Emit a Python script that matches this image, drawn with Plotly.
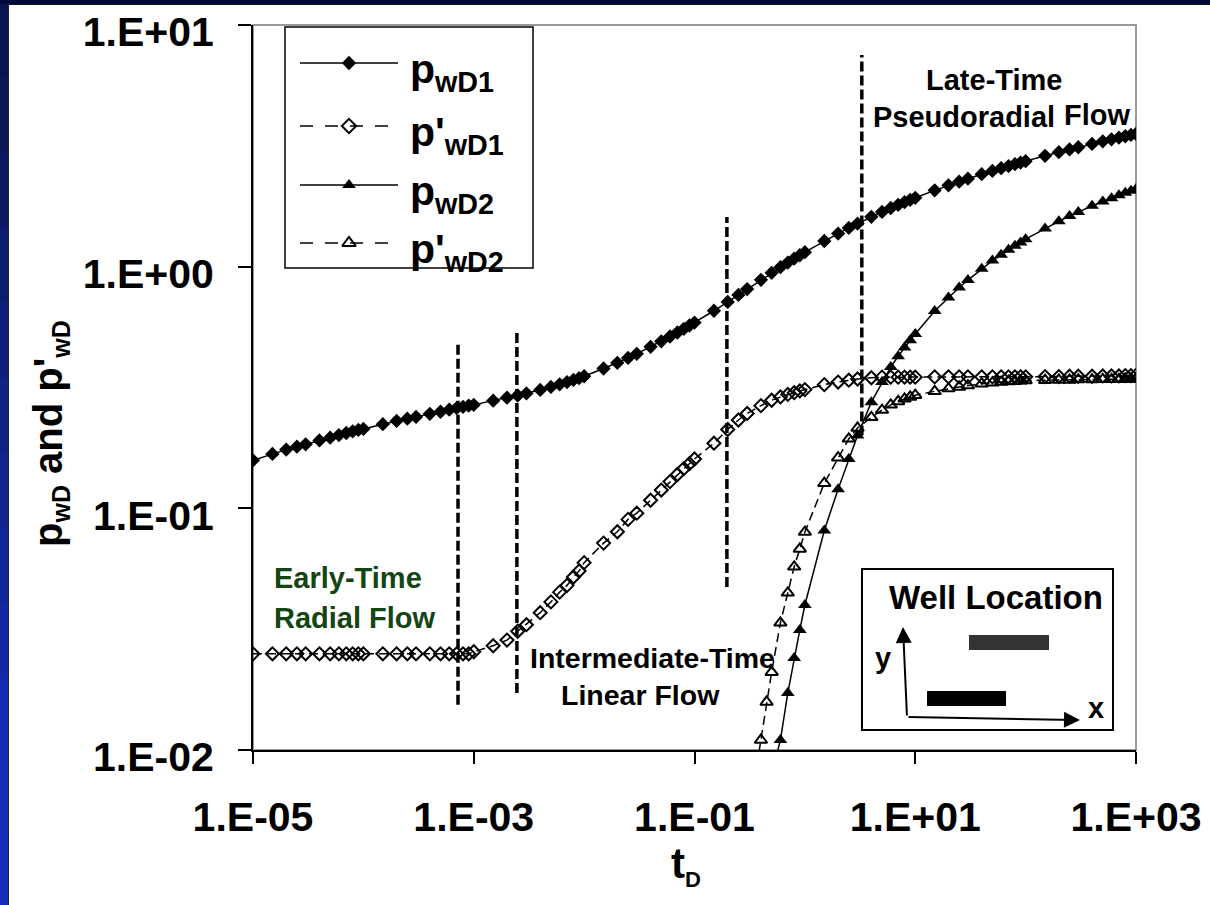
import plotly.graph_objects as go

# ---------------- data ----------------
td_1 = [1e-5, 1.5e-5, 2e-5, 2.5e-5, 3e-5, 4e-5, 5e-5, 6e-5, 7e-5, 8e-5, 9e-5,
        1e-4, 1.5e-4, 2e-4, 2.5e-4, 3e-4, 4e-4, 5e-4, 6e-4, 7e-4, 8e-4, 9e-4,
        1e-3, 1.5e-3, 2e-3, 2.5e-3, 3e-3, 4e-3, 5e-3, 6e-3, 7e-3, 8e-3, 9e-3,
        1e-2, 1.5e-2, 2e-2, 2.5e-2, 3e-2, 4e-2, 5e-2, 6e-2, 7e-2, 8e-2, 9e-2,
        0.1, 0.15, 0.2, 0.25, 0.3, 0.4, 0.5, 0.6, 0.7, 0.8, 0.9,
        1, 1.5, 2, 2.5, 3, 4, 5, 6, 7, 8, 9,
        10, 15, 20, 25, 30, 40, 50, 60, 70, 80, 90,
        100, 150, 200, 250, 300, 400, 500, 600, 700, 800, 900,
        1000]

p_wD1 = [0.158, 0.168, 0.175, 0.180, 0.184, 0.191, 0.196, 0.201, 0.205, 0.208, 0.211,
         0.213, 0.223, 0.230, 0.235, 0.239, 0.246, 0.251, 0.256, 0.260, 0.263, 0.266,
         0.268, 0.279, 0.287, 0.293, 0.299, 0.309, 0.318, 0.326, 0.333, 0.340, 0.346,
         0.352, 0.379, 0.400, 0.419, 0.436, 0.466, 0.491, 0.514, 0.534, 0.553, 0.571,
         0.587, 0.657, 0.715, 0.764, 0.808, 0.882, 0.943, 0.995, 1.040, 1.080, 1.115,
         1.148, 1.277, 1.371, 1.446, 1.508, 1.608, 1.685, 1.749, 1.803, 1.849, 1.891,
         1.927, 2.069, 2.170, 2.248, 2.312, 2.413, 2.491, 2.555, 2.608, 2.655, 2.696,
         2.733, 2.876, 2.977, 3.056, 3.120, 3.221, 3.300, 3.364, 3.418, 3.465, 3.507,
         3.544]

pp_wD1 = [0.025, 0.025, 0.025, 0.025, 0.025, 0.025, 0.025, 0.025, 0.025, 0.025, 0.025,
          0.025, 0.025, 0.025, 0.025, 0.025, 0.025, 0.025, 0.025, 0.025, 0.025, 0.025,
          0.0255, 0.027, 0.0285, 0.031, 0.033, 0.037, 0.041, 0.045, 0.048, 0.052, 0.055,
          0.0596, 0.0718, 0.080, 0.090, 0.0955, 0.108, 0.119, 0.129, 0.138, 0.146, 0.153,
          0.160, 0.186, 0.212, 0.232, 0.247, 0.266, 0.280, 0.289, 0.296, 0.301, 0.306,
          0.310, 0.325, 0.333, 0.339, 0.343, 0.347, 0.349, 0.349, 0.349, 0.349, 0.349,
          0.349, 0.350, 0.350, 0.350, 0.350, 0.350, 0.350, 0.350, 0.350, 0.350, 0.350,
          0.350, 0.351, 0.351, 0.352, 0.352, 0.352, 0.353, 0.353, 0.353, 0.354, 0.354,
          0.355]

td_2 = [0.5, 0.6, 0.7, 0.8, 0.9,
        1, 1.5, 2, 2.5, 3, 4, 5, 6, 7, 8, 9,
        10, 15, 20, 25, 30, 40, 50, 60, 70, 80, 90,
        100, 150, 200, 250, 300, 400, 500, 600, 700, 800, 900,
        1000]

p_wD2 = [0.0079, 0.011, 0.0172, 0.024, 0.0314,
         0.0398, 0.081, 0.120, 0.160, 0.200, 0.275, 0.333, 0.384, 0.426, 0.463, 0.496,
         0.527, 0.655, 0.745, 0.820, 0.880, 0.980, 1.060, 1.120, 1.175, 1.220, 1.260,
         1.300, 1.440, 1.540, 1.620, 1.685, 1.785, 1.860, 1.920, 1.975, 2.020, 2.060,
         2.095]

td_2d = [0.35, 0.4, 0.45, 0.5, 0.6, 0.7, 0.8, 0.9,
         1, 1.5, 2, 2.5, 3, 4, 5, 6, 7, 8, 9,
         10, 15, 20, 25, 30, 40, 50, 60, 70, 80, 90,
         100, 150, 200, 250, 300, 400, 500, 600, 700, 800, 900,
         1000]

pp_wD2 = [0.0075, 0.011, 0.0158, 0.021, 0.0336, 0.0447, 0.0573, 0.0679,
          0.0798, 0.127, 0.162, 0.194, 0.215, 0.238, 0.255, 0.268, 0.277, 0.284, 0.289,
          0.294, 0.305, 0.313, 0.318, 0.322, 0.328, 0.331, 0.333, 0.335, 0.336, 0.337,
          0.338, 0.339, 0.340, 0.340, 0.341, 0.341, 0.342, 0.342, 0.342, 0.343, 0.343,
          0.343]

# flow-regime boundary markers (tD, y-bottom, y-top)
regime_td = [7.2e-4, 2.46e-3, 0.1966, 3.28]
regime_ylo = [0.0154, 0.0172, 0.0473, 0.20]
regime_yhi = [0.483, 0.537, 1.605, 7.51]

x_tickvals = [1e-5, 1e-3, 1e-1, 1e1, 1e3]
x_ticktext = ["1.E-05", "1.E-03", "1.E-01", "1.E+01", "1.E+03"]
y_tickvals = [0.01, 0.1, 1, 10]
y_ticktext = ["1.E-02", "1.E-01", "1.E+00", "1.E+01"]

series_names = ["p<sub>wD1</sub>", "p'<sub>wD1</sub>", "p<sub>wD2</sub>", "p'<sub>wD2</sub>"]

# ---------------- layout geometry (pixels) ----------------
W, H = 1210, 905
L, R, T, B = 253, 1136, 25, 750
FONT = "Arial, 'Liberation Sans', Helvetica, sans-serif"


def px(x):
    return (x - L) / (R - L)


def py(y):
    return (B - y) / (B - T)


fig = go.Figure()

line_solid = dict(color="black", width=1.5)
line_dash = dict(color="black", width=1.5, dash="9px,5px")

styles = [
    dict(line=line_solid, marker=dict(symbol="diamond", size=11, color="black")),
    dict(line=line_dash, marker=dict(symbol="diamond-open", size=10, color="black", line=dict(width=2))),
    dict(line=line_solid, marker=dict(symbol="triangle-up", size=12, color="black")),
    dict(line=line_dash, marker=dict(symbol="triangle-up-open", size=11, color="black", line=dict(width=2))),
]
series = [(td_1, p_wD1), (td_1, pp_wD1), (td_2, p_wD2), (td_2d, pp_wD2)]
for (xs, ys), st, nm in zip(series, styles, series_names):
    fig.add_trace(go.Scatter(x=xs, y=ys, mode="lines+markers", name=nm,
                             line=st["line"], marker=st["marker"],
                             showlegend=False, hoverinfo="skip"))

for xv, ylo, yhi in zip(regime_td, regime_ylo, regime_yhi):
    fig.add_trace(go.Scatter(x=[xv, xv], y=[ylo, yhi], mode="lines",
                             line=dict(color="black", width=3.5, dash="10px,4px"),
                             showlegend=False, hoverinfo="skip"))

# ---------------- custom legend (overlay pixel axes) ----------------
leg_rows = [63, 126, 185, 243]
leg_marker_sizes = [11, 11, 12, 12]
for row, st, ms in zip(leg_rows, styles, leg_marker_sizes):
    ln = dict(st["line"])
    if "dash" in ln:
        ln["dash"] = "13px,12px"
    fig.add_trace(go.Scatter(x=[300, 398], y=[row, row], mode="lines", line=ln,
                             xaxis="x2", yaxis="y2", showlegend=False, hoverinfo="skip"))
    mk = dict(st["marker"])
    mk["size"] = ms
    fig.add_trace(go.Scatter(x=[349], y=[row], mode="markers", marker=mk,
                             xaxis="x2", yaxis="y2", showlegend=False, hoverinfo="skip"))

shapes = []
# slide background decoration
left_cols = ["#0a1450", "#0b1658", "#0c1962", "#0d1c6c", "#0e1f78", "#102284",
             "#11258f", "#12279a", "#1329a4", "#142bad", "#152db4", "#162fba"]
n = len(left_cols)
for i, c in enumerate(left_cols):
    y0 = H * i / n
    y1 = H * (i + 1) / n + 1
    shapes.append(dict(type="rect", xref="paper", yref="paper",
                       x0=px(0), x1=px(8), y0=py(y0), y1=py(y1),
                       fillcolor=c, line=dict(width=0), layer="below"))
shapes.append(dict(type="rect", xref="paper", yref="paper", x0=px(0), x1=px(W), y0=py(0), y1=py(4),
                   fillcolor="#00093a", line=dict(width=0), layer="below"))
shapes.append(dict(type="line", xref="paper", yref="paper", x0=px(8), x1=px(W), y0=py(4.5), y1=py(4.5),
                   line=dict(color="#111111", width=1), layer="below"))
shapes.append(dict(type="line", xref="paper", yref="paper", x0=px(8.5), x1=px(8.5), y0=py(4), y1=py(H),
                   line=dict(color="#222222", width=1), layer="below"))
# plot border (grey top/right)
shapes.append(dict(type="rect", xref="paper", yref="paper", x0=0, x1=1, y0=0, y1=1,
                   line=dict(color="#999999", width=2), layer="below"))
# legend box
shapes.append(dict(type="rect", xref="paper", yref="paper", x0=px(285), x1=px(533), y0=py(268), y1=py(27),
                   line=dict(color="black", width=1.5), fillcolor="white", layer="below"))
# well-location inset
shapes.append(dict(type="rect", xref="paper", yref="paper", x0=px(862), x1=px(1113), y0=py(730), y1=py(569),
                   line=dict(color="black", width=2), fillcolor="white", layer="below"))
shapes.append(dict(type="rect", xref="paper", yref="paper", x0=px(969), x1=px(1049), y0=py(650), y1=py(635),
                   line=dict(width=0), fillcolor="#333333", layer="above"))
shapes.append(dict(type="rect", xref="paper", yref="paper", x0=px(927), x1=px(1006), y0=py(706), y1=py(691),
                   line=dict(width=0), fillcolor="#000000", layer="above"))


def ann(text, x, y, size, color="black", xanchor="center", **kw):
    return dict(text=text, x=px(x), y=py(y), xref="paper", yref="paper", showarrow=False,
                xanchor=xanchor, yanchor="middle",
                font=dict(family=FONT, size=size, color=color, weight="bold"), **kw)


green = "#134513"
annotations = [
    ann("Early-Time", 272, 578, 29, green, xanchor="left"),
    ann("Radial Flow", 272, 618, 29, green, xanchor="left"),
    ann("Intermediate-Time", 652, 658, 28.5),
    ann("Linear Flow", 640, 695, 28.5),
    ann("Late-Time", 994, 80, 29),
    ann("Pseudoradial", 964, 117, 29),
    ann("Flow", 1097, 115, 29),
    ann("Well Location", 996, 597, 33),
    ann("y", 883, 658, 29),
    ann("x", 1096, 708, 29),
    ann("t<sub><span style='font-size:22px'>D</span></sub>", 686, 866, 42),
    ann("p<sub><span style='font-size:25px'>wD</span></sub> and p'<sub><span style='font-size:25px'>wD</span></sub>",
        50, 434, 40, textangle=-90),
]
for row, nm in zip(leg_rows, series_names):
    annotations.append(ann(nm, 408, row + 9, 41, xanchor="left"))

# axis arrows of the inset
arrow_common = dict(xref="paper", yref="paper", showarrow=True, text="", arrowhead=2,
                    arrowsize=1.6, arrowwidth=2, arrowcolor="black", standoff=0, axref="pixel", ayref="pixel")
annotations.append(dict(x=px(903), y=py(627), ax=4, ay=90, **arrow_common))
annotations.append(dict(x=px(1080), y=py(720), ax=-173, ay=-3, **arrow_common))

axis_font = dict(family=FONT, size=41, color="black", weight="bold")
fig.update_layout(
    template="none",
    width=W, height=H,
    margin=dict(l=L, r=W - R, t=T, b=H - B, pad=0, autoexpand=False),
    paper_bgcolor="white", plot_bgcolor="white",
    showlegend=False, hovermode=False,
    xaxis=dict(type="log", range=[-5, 3], tickvals=x_tickvals, ticktext=x_ticktext,
               showgrid=False, zeroline=False, showline=True, linecolor="black", linewidth=2,
               ticks="outside", ticklen=12, tickwidth=2, tickcolor="black", automargin=False,
               tickfont=axis_font, ticklabelstandoff=18, ticklabeloverflow="allow"),
    yaxis=dict(type="log", range=[-2, 1], tickvals=y_tickvals, ticktext=y_ticktext,
               showgrid=False, zeroline=False, showline=True, linecolor="black", linewidth=2,
               ticks="outside", ticklen=13, tickwidth=2, tickcolor="black", automargin=False,
               tickfont=axis_font, ticklabelstandoff=16, ticklabelshift=7,
               ticklabeloverflow="allow"),
    xaxis2=dict(overlaying="x", range=[L, R], visible=False, anchor="y2", fixedrange=True,
                automargin=False),
    yaxis2=dict(overlaying="y", range=[B, T], visible=False, anchor="x2", fixedrange=True,
                automargin=False),
    shapes=shapes,
    annotations=annotations,
)

fig.write_html("out.html", config={"displayModeBar": False},
               post_script="document.body.style.margin='0';")
